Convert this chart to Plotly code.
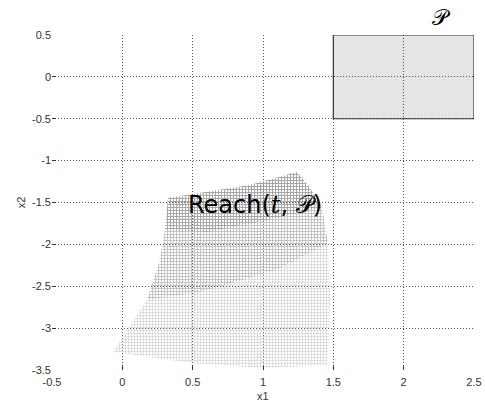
import plotly.graph_objects as go

# Initial set P (box in the x1-x2 plane)
p_x1 = [1.5, 2.5, 2.5, 1.5, 1.5]
p_x2 = [-0.5, -0.5, 0.5, 0.5, -0.5]

# Outline of the reachable set Reach(t, P), traced clockwise from the lower-left corner
reach_x1 = [-0.066, 0.033, 0.175, 0.268, 0.303, 0.325, 0.908, 1.242, 1.334, 1.419,
            1.462, 1.476, 1.469, 1.455, 1.0, 0.502, -0.066]
reach_x2 = [-3.285, -3.022, -2.664, -2.187, -1.828, -1.446, -1.291, -1.136, -1.327, -1.554,
            -1.984, -2.581, -3.142, -3.440, -3.476, -3.416, -3.285]

# Upper half of the reachable set, where the trajectories crowd together
mid_x1 = [0.325, 0.908, 1.242, 1.334, 1.419, 1.462, 1.1, 0.6, 0.175, 0.268, 0.303, 0.325]
mid_x2 = [-1.446, -1.291, -1.136, -1.327, -1.554, -1.984, -2.3, -2.55, -2.664, -2.187, -1.828, -1.446]

# Top band of the reachable set, the densest part of the mesh
top_x1 = [0.325, 0.908, 1.242, 1.334, 1.419, 1.0, 0.6, 0.303, 0.325]
top_x2 = [-1.446, -1.291, -1.136, -1.327, -1.554, -1.72, -1.85, -1.828, -1.446]

x_ticks = [-0.5, 0, 0.5, 1, 1.5, 2, 2.5]
y_ticks = [-3.5, -3, -2.5, -2, -1.5, -1, -0.5, 0, 0.5]

fig = go.Figure()

fig.add_trace(go.Scatter(
    x=p_x1, y=p_x2, mode="lines", fill="toself",
    fillcolor="rgba(0,0,0,0.10)",
    line=dict(color="#333333", width=1.2),
    hoverinfo="skip", showlegend=False,
))


def mesh_patch(xs, ys, color, solidity):
    return go.Scatter(
        x=xs, y=ys, mode="lines", fill="toself",
        fillcolor="rgba(0,0,0,0)",
        fillpattern=dict(shape="+", fgcolor=color, size=3, solidity=solidity,
                         bgcolor="rgba(0,0,0,0)"),
        line=dict(width=0, color="rgba(0,0,0,0)"),
        hoverinfo="skip", showlegend=False,
    )


fig.add_trace(mesh_patch(reach_x1, reach_x2, "#b0b0b0", 0.45))
fig.add_trace(mesh_patch(mid_x1, mid_x2, "#9c9c9c", 0.45))
fig.add_trace(mesh_patch(top_x1, top_x2, "#858585", 0.5))

fig.add_annotation(
    x=2.27, y=1.097, xref="x", yref="paper", showarrow=False,
    text="𝒫", font=dict(family="DejaVu Serif", size=22, color="#000000"),
)
fig.add_annotation(
    x=0.94, y=-1.53, xref="x", yref="y", showarrow=False,
    text="Reach(<span style=\"font-family:'DejaVu Serif'\"><i>t</i></span>, 𝒫)",
    font=dict(family="DejaVu Sans", size=24, color="#000000"),
)

# Axis titles
fig.add_annotation(
    x=0.5, y=-0.078, xref="paper", yref="paper", yanchor="middle", showarrow=False,
    text="x1", font=dict(family="Liberation Sans", size=11, color="#333333"),
)
fig.add_annotation(
    x=-0.093, y=0.5, xref="paper", yref="paper", textangle=-90, showarrow=False,
    text="x2", font=dict(family="Liberation Sans", size=11, color="#333333"),
)

axis_common = dict(
    showgrid=True, gridcolor="#555555", gridwidth=1, griddash="1px,2px",
    zeroline=False, showline=False, automargin=False,
    ticks="inside", ticklen=4, tickcolor="#333333",
    tickfont=dict(family="Liberation Sans", size=11, color="#333333"),
)

fig.update_xaxes(range=[-0.5, 2.5], tickvals=x_ticks,
                 ticktext=[str(v) for v in x_ticks], ticklabelstandoff=4,
                 **axis_common)
fig.update_yaxes(range=[-3.5, 0.5], tickvals=y_ticks,
                 ticktext=[str(v) for v in y_ticks],
                 **axis_common)

fig.update_layout(
    width=485, height=406, autosize=False,
    margin=dict(l=52, r=11, t=35, b=36, autoexpand=False),
    paper_bgcolor="white", plot_bgcolor="white",
)

fig.write_html("out.html")
